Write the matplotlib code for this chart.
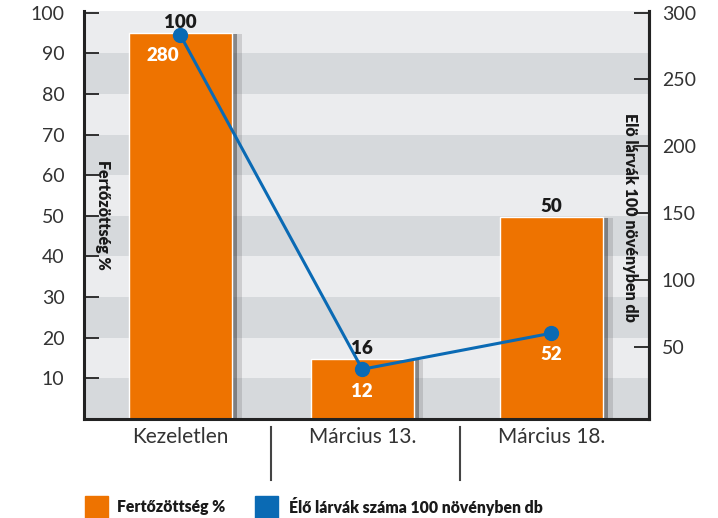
'''
Fertőzöttség és élő lárvák száma - oszlop + vonal diagram, két y tengellyel.
'''

# Modules
import matplotlib
matplotlib.use('Agg')
from matplotlib import pyplot as plt
from matplotlib.patches import Rectangle
import matplotlib.patheffects as pe

# Data
categories = ['Kezeletlen', 'Március 13.', 'Március 18.']
infection = [95.0, 14.8, 49.7]          # bar heights as drawn
infection_labels = ['100', '16', '50']  # printed on top of the bars
larvae = [283, 33, 60]                  # line points as drawn
larvae_labels = ['280', '12', '52']
left_ticks = [10, 20, 30, 40, 50, 60, 70, 80, 90, 100]
right_ticks = [50, 100, 150, 200, 250, 300]
legend_labels = ['Fertőzöttség %', 'Élő lárvák száma 100 növényben db']

orange = '#ee7300'
blue = '#0a6ab4'
dark = '#222222'

plt.rcParams['font.family'] = ['Lato', 'DejaVu Sans']


def main():

    fig = plt.figure(figsize=(7.18, 5.18), dpi=100)
    ax = fig.add_axes([0.117, 0.1911, 0.7875, 0.7877])
    ax2 = ax.twinx()

    pos = [0, 0.98, 2]

    # background bands
    ax.set_facecolor('#ebecee')
    for lo in range(0, 100, 20):
        ax.axhspan(lo, lo + 10, color='#d6d9dc', lw=0, zorder=0)

    bars = ax.bar(pos, infection, width=0.555, color=orange,
                  edgecolor='white', linewidth=1, zorder=2)
    for b in bars:
        b.set_path_effects([pe.SimplePatchShadow(offset=(7, -1),
                                                 shadow_rgbFace='#555555',
                                                 alpha=0.2),
                            pe.SimplePatchShadow(offset=(3.5, -1),
                                                 shadow_rgbFace='#333333',
                                                 alpha=0.45),
                            pe.Normal()])
    for x, h, lab in zip(pos, infection, infection_labels):
        ax.annotate(lab, (x, h), xytext=(0, 7.5), textcoords='offset points',
                    ha='center', va='center', fontsize=13.5,
                    fontweight='heavy', color='#1a1a1a', zorder=3)

    ax2.plot(pos, larvae, color=blue, linewidth=2.2, marker='o',
             markersize=10, zorder=4)
    offs = [(-13, -14.5), (0, -16), (0, -15)]
    for x, v, lab, o in zip(pos, larvae, larvae_labels, offs):
        ax2.annotate(lab, (x, v), xytext=o, textcoords='offset points',
                     ha='center', va='center', fontsize=13.5,
                     fontweight='heavy', color='white')

    ax.set_xlim(-0.52, 2.528)
    ax.set_ylim(0, 100.4)
    ax2.set_ylim(-4.27, 301.3)

    ax.set_yticks(left_ticks)
    ax.set_yticklabels([str(t) for t in left_ticks])
    ax2.set_yticks(right_ticks)
    ax2.set_yticklabels([str(t) for t in right_ticks])
    ax.tick_params(axis='y', direction='in', length=11, width=1.3,
                   color=dark, pad=14, labelsize=14, labelcolor='#333333')
    ax2.tick_params(axis='y', direction='in', length=11, width=1.3,
                    color=dark, pad=9, labelsize=14, labelcolor='#333333')

    ax.set_xticks(pos)
    ax.set_xticklabels(categories, fontsize=15, color='#333333')
    ax.tick_params(axis='x', length=0, pad=6)

    for a in (ax, ax2):
        a.spines['top'].set_visible(False)
        for s in ('left', 'right', 'bottom'):
            a.spines[s].set_color(dark)
            a.spines[s].set_linewidth(2.2)
    ax2.spines['left'].set_visible(False)
    ax2.spines['bottom'].set_visible(False)

    # separators below the category axis
    for xs in (0.49, 1.506):
        ax.plot([xs, xs], [-0.02, -0.15], color='#444444', linewidth=1.5,
                transform=ax.get_xaxis_transform(), clip_on=False)

    # axis titles inside the plot
    ax.text(0.033, 0.5, 'Fertőzöttség %', transform=ax.transAxes,
            rotation=-90, ha='center', va='center', fontsize=11.5,
            fontweight='heavy', color='#1a1a1a')
    ax.text(0.965, 0.495, 'Elö lárvák 100 növényben db',
            transform=ax.transAxes, rotation=-90, ha='center', va='center',
            fontsize=11.5, fontweight='heavy', color='#1a1a1a')

    # legend
    for x0, tx, col, lab in zip((85, 255), (117, 289), (orange, blue),
                                legend_labels):
        fig.add_artist(Rectangle((x0 / 718, 0), 23 / 718, 22 / 518,
                                 transform=fig.transFigure, color=col))
        fig.text(tx / 718, 1 - 507 / 518, lab, ha='left', va='center',
                 fontsize=11.3, fontweight='heavy', color='#1a1a1a')

    plt.savefig('out.png', dpi=100)
    return None


if __name__ == "__main__":
    main()
